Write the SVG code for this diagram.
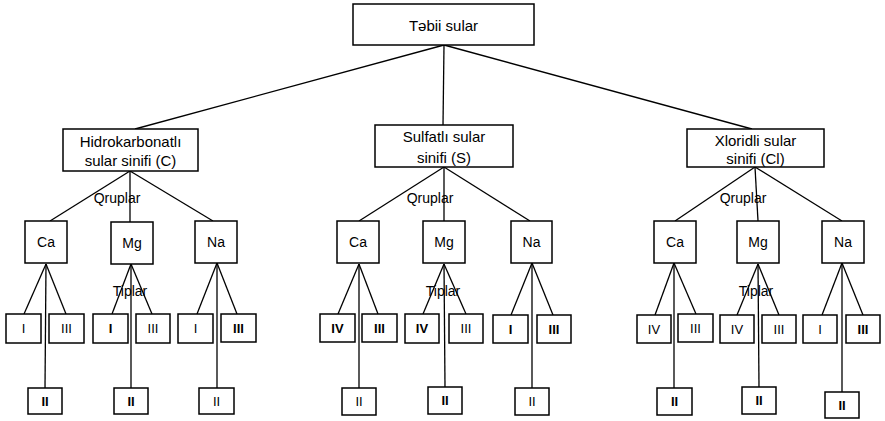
<svg xmlns="http://www.w3.org/2000/svg" width="885" height="421" viewBox="0 0 885 421">
  <style>
    .box { fill: #ffffff; stroke: #000000; stroke-width: 1.5; }
    .edge { stroke: #000000; stroke-width: 1.3; fill: none; }
    text { font-family: "Liberation Sans", Arial, sans-serif; fill: #000000; text-anchor: middle; dominant-baseline: central; }
    .t15 { font-size: 15px; }
    .t14 { font-size: 14px; }
    .t12 { font-size: 13px; }
    .b { font-weight: bold; }
  </style>
  <rect width="885" height="421" fill="#ffffff"/>

  <!-- connectors -->
  <g id="connectors">
    <!-- root to classes -->
    <line class="edge" x1="444" y1="45" x2="135" y2="129"/>
    <line class="edge" x1="444" y1="45" x2="443" y2="125"/>
    <line class="edge" x1="444" y1="45" x2="752" y2="129"/>
    <!-- class C to groups -->
    <line class="edge" x1="130" y1="171" x2="50" y2="221"/>
    <line class="edge" x1="130" y1="171" x2="130" y2="222"/>
    <line class="edge" x1="130" y1="171" x2="213" y2="221"/>
    <!-- class S to groups -->
    <line class="edge" x1="444" y1="167" x2="359" y2="221"/>
    <line class="edge" x1="444" y1="167" x2="444" y2="221"/>
    <line class="edge" x1="444" y1="167" x2="530" y2="221"/>
    <!-- class Cl to groups -->
    <line class="edge" x1="755" y1="167" x2="675" y2="221"/>
    <line class="edge" x1="755" y1="167" x2="758" y2="221"/>
    <line class="edge" x1="755" y1="167" x2="842" y2="221"/>
    <!-- C: types -->
    <line class="edge" x1="46" y1="264" x2="24" y2="314"/>
    <line class="edge" x1="46" y1="264" x2="66" y2="314"/>
    <line class="edge" x1="46" y1="264" x2="45" y2="388"/>
    <line class="edge" x1="131" y1="264" x2="112" y2="314"/>
    <line class="edge" x1="131" y1="264" x2="152" y2="314"/>
    <line class="edge" x1="131" y1="264" x2="131" y2="388"/>
    <line class="edge" x1="217" y1="263" x2="197" y2="314"/>
    <line class="edge" x1="217" y1="263" x2="237" y2="314"/>
    <line class="edge" x1="217" y1="263" x2="217" y2="388"/>
    <!-- S: types -->
    <line class="edge" x1="359" y1="264" x2="338" y2="314"/>
    <line class="edge" x1="359" y1="264" x2="378" y2="314"/>
    <line class="edge" x1="359" y1="264" x2="359" y2="388"/>
    <line class="edge" x1="444" y1="264" x2="423" y2="314"/>
    <line class="edge" x1="444" y1="264" x2="466" y2="314"/>
    <line class="edge" x1="444" y1="264" x2="445" y2="387"/>
    <line class="edge" x1="532" y1="263" x2="511" y2="315"/>
    <line class="edge" x1="532" y1="263" x2="553" y2="315"/>
    <line class="edge" x1="532" y1="263" x2="532" y2="388"/>
    <!-- Cl: types -->
    <line class="edge" x1="674" y1="263" x2="655" y2="315"/>
    <line class="edge" x1="674" y1="263" x2="696" y2="314"/>
    <line class="edge" x1="674" y1="263" x2="674" y2="388"/>
    <line class="edge" x1="758" y1="264" x2="737" y2="315"/>
    <line class="edge" x1="758" y1="264" x2="779" y2="315"/>
    <line class="edge" x1="758" y1="264" x2="759" y2="387"/>
    <line class="edge" x1="842" y1="263" x2="822" y2="315"/>
    <line class="edge" x1="842" y1="263" x2="863" y2="315"/>
    <line class="edge" x1="842" y1="263" x2="842" y2="392"/>
  </g>

  <!-- level labels -->
  <g id="labels">
    <text class="t14" x="117" y="198">Qruplar</text>
    <text class="t14" x="430" y="198">Qruplar</text>
    <text class="t14" x="743" y="198">Qruplar</text>
    <text class="t14" x="130" y="291">Tiplar</text>
    <text class="t14" x="443" y="291">Tiplar</text>
    <text class="t14" x="756" y="291">Tiplar</text>
  </g>

  <!-- root -->
  <g id="root">
    <rect class="box" x="353" y="4" width="181" height="41"/>
    <text class="t15" x="443.5" y="25">Təbii sular</text>
  </g>

  <!-- classes -->
  <g id="class-c">
    <rect class="box" x="63" y="129" width="135" height="42"/>
    <text class="t15" x="130.5" y="141">Hidrokarbonatlı</text>
    <text class="t15" x="130.5" y="160">sular sinifi (C)</text>
  </g>
  <g id="class-s">
    <rect class="box" x="375" y="125" width="138" height="42"/>
    <text class="t15" x="444" y="136">Sulfatlı sular</text>
    <text class="t15" x="444" y="157">sinifi (S)</text>
  </g>
  <g id="class-cl">
    <rect class="box" x="687" y="129" width="137" height="38"/>
    <text class="t15" x="755.5" y="140">Xloridli sular</text>
    <text class="t15" x="755.5" y="158">sinifi (Cl)</text>
  </g>

  <!-- groups: class C -->
  <g id="c-ca"><rect class="box" x="25" y="221" width="42" height="42"/><text class="t14" x="46" y="242">Ca</text></g>
  <g id="c-mg"><rect class="box" x="111" y="222" width="42" height="42"/><text class="t14" x="132" y="243">Mg</text></g>
  <g id="c-na"><rect class="box" x="195" y="221" width="42" height="42"/><text class="t14" x="216" y="242">Na</text></g>
  <!-- groups: class S -->
  <g id="s-ca"><rect class="box" x="337" y="221" width="42" height="42"/><text class="t14" x="358" y="242">Ca</text></g>
  <g id="s-mg"><rect class="box" x="423" y="221" width="42" height="42"/><text class="t14" x="444" y="242">Mg</text></g>
  <g id="s-na"><rect class="box" x="511" y="221" width="41" height="42"/><text class="t14" x="531.5" y="242">Na</text></g>
  <!-- groups: class Cl -->
  <g id="cl-ca"><rect class="box" x="654" y="221" width="42" height="42"/><text class="t14" x="675" y="242">Ca</text></g>
  <g id="cl-mg"><rect class="box" x="737" y="221" width="42" height="42"/><text class="t14" x="758" y="242">Mg</text></g>
  <g id="cl-na"><rect class="box" x="822" y="221" width="42" height="42"/><text class="t14" x="843" y="242">Na</text></g>

  <!-- types: class C -->
  <g id="c-ca-1"><rect class="box" x="6" y="314" width="35" height="29"/><text class="t12" x="23.5" y="328.5">I</text></g>
  <g id="c-ca-3"><rect class="box" x="49" y="314" width="35" height="29"/><text class="t12" x="66.5" y="328.5">III</text></g>
  <g id="c-ca-2"><rect class="box" x="28" y="388" width="34" height="26"/><text class="t12 b" x="45" y="401">II</text></g>
  <g id="c-mg-1"><rect class="box" x="93" y="314" width="35" height="29"/><text class="t12 b" x="110.5" y="328.5">I</text></g>
  <g id="c-mg-3"><rect class="box" x="136" y="314" width="34" height="29"/><text class="t12" x="153" y="328.5">III</text></g>
  <g id="c-mg-2"><rect class="box" x="114" y="388" width="34" height="26"/><text class="t12 b" x="131" y="401">II</text></g>
  <g id="c-na-1"><rect class="box" x="178" y="314" width="35" height="29"/><text class="t12" x="195.5" y="328.5">I</text></g>
  <g id="c-na-3"><rect class="box" x="221" y="314" width="35" height="28"/><text class="t12 b" x="238.5" y="328">III</text></g>
  <g id="c-na-2"><rect class="box" x="199" y="388" width="35" height="26"/><text class="t12" x="216.5" y="401">II</text></g>

  <!-- types: class S -->
  <g id="s-ca-4"><rect class="box" x="320" y="314" width="35" height="28"/><text class="t12 b" x="337.5" y="328">IV</text></g>
  <g id="s-ca-3"><rect class="box" x="362" y="314" width="35" height="28"/><text class="t12 b" x="379.5" y="328">III</text></g>
  <g id="s-ca-2"><rect class="box" x="342" y="388" width="34" height="27"/><text class="t12" x="359" y="401.5">II</text></g>
  <g id="s-mg-4"><rect class="box" x="405" y="314" width="34" height="29"/><text class="t12 b" x="422" y="328.5">IV</text></g>
  <g id="s-mg-3"><rect class="box" x="449" y="314" width="34" height="29"/><text class="t12" x="466" y="328.5">III</text></g>
  <g id="s-mg-2"><rect class="box" x="428" y="387" width="34" height="27"/><text class="t12 b" x="445" y="400.5">II</text></g>
  <g id="s-na-1"><rect class="box" x="493" y="315" width="35" height="28"/><text class="t12 b" x="510.5" y="329">I</text></g>
  <g id="s-na-3"><rect class="box" x="537" y="315" width="34" height="28"/><text class="t12 b" x="554" y="329">III</text></g>
  <g id="s-na-2"><rect class="box" x="515" y="388" width="34" height="27"/><text class="t12" x="532" y="401.5">II</text></g>

  <!-- types: class Cl -->
  <g id="cl-ca-4"><rect class="box" x="637" y="315" width="34" height="28"/><text class="t12" x="654" y="329">IV</text></g>
  <g id="cl-ca-3"><rect class="box" x="678" y="314" width="35" height="28"/><text class="t12" x="695.5" y="328">III</text></g>
  <g id="cl-ca-2"><rect class="box" x="657" y="388" width="35" height="27"/><text class="t12 b" x="674.5" y="401.5">II</text></g>
  <g id="cl-mg-4"><rect class="box" x="720" y="315" width="34" height="28"/><text class="t12" x="737" y="329">IV</text></g>
  <g id="cl-mg-3"><rect class="box" x="762" y="315" width="34" height="28"/><text class="t12" x="779" y="329">III</text></g>
  <g id="cl-mg-2"><rect class="box" x="742" y="387" width="34" height="27"/><text class="t12 b" x="759" y="400.5">II</text></g>
  <g id="cl-na-1"><rect class="box" x="803" y="315" width="34" height="28"/><text class="t12" x="820" y="329">I</text></g>
  <g id="cl-na-3"><rect class="box" x="846" y="315" width="34" height="28"/><text class="t12 b" x="863" y="329">III</text></g>
  <g id="cl-na-2"><rect class="box" x="825" y="392" width="34" height="26"/><text class="t12 b" x="842" y="405">II</text></g>
</svg>
